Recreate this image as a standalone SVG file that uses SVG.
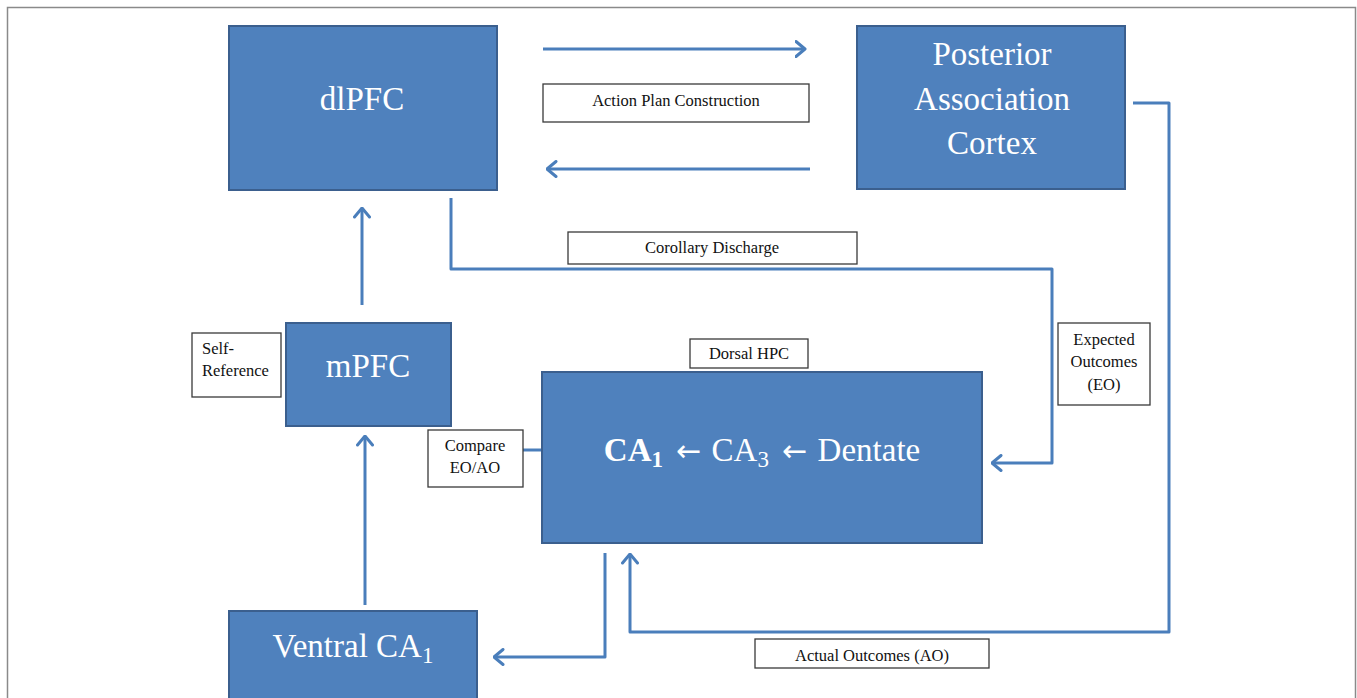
<svg xmlns="http://www.w3.org/2000/svg" width="1357" height="698" viewBox="0 0 1357 698">
<style>
.node rect.box{fill:#4f81bd;stroke:#3b5f8e;stroke-width:2}
.node text{font-family:"Liberation Serif","Times New Roman",serif;font-size:33px;fill:#ffffff;text-anchor:middle}
.node tspan.ar{font-family:"DejaVu Sans",sans-serif;font-size:30px}
.lbl rect{fill:#ffffff;stroke:#3a3a3a;stroke-width:1.3}
.lbl text{font-family:"Liberation Serif","Times New Roman",serif;font-size:16.5px;fill:#111111;text-anchor:middle}
.lbl text.start{text-anchor:start}
#connectors path{fill:none;stroke:#4a7ebb;stroke-width:3;stroke-linejoin:round}
</style>
<defs>
<marker id="arr" viewBox="0 0 12 18" refX="10.5" refY="9" markerWidth="12" markerHeight="18" markerUnits="userSpaceOnUse" orient="auto">
<path d="M1.5,1.5 L10.5,9 L1.5,16.5" fill="none" stroke="#4a7ebb" stroke-width="3" stroke-linecap="round" stroke-linejoin="round"/>
</marker>
</defs>
<rect width="1357" height="698" fill="#ffffff"/>
<path d="M7.5,698 V7.5 H1355.5 V698" fill="none" stroke="#8a8a8a" stroke-width="1.5"/>

<g id="connectors">
<path d="M543,49 H805" marker-end="url(#arr)"/>
<path d="M810,169 H547" marker-end="url(#arr)"/>
<path d="M362,305 V208" marker-end="url(#arr)"/>
<path d="M365,605 V436" marker-end="url(#arr)"/>
<path d="M451,198 V269 H1052 V463 H992" marker-end="url(#arr)"/>
<path d="M1133,103 H1169 V632 H630 V554" marker-end="url(#arr)"/>
<path d="M605,553 V657 H494" marker-end="url(#arr)"/>
<path d="M523,450 H542"/>
</g>

<g id="dlPFC" class="node">
<rect class="box" x="229" y="26" width="268" height="164"/>
<text x="362" y="110">dlPFC</text>
</g>
<g id="posterior" class="node">
<rect class="box" x="857" y="26" width="268" height="163"/>
<text x="992" y="65">Posterior</text>
<text x="992" y="110">Association</text>
<text x="992" y="154">Cortex</text>
</g>
<g id="mPFC" class="node">
<rect class="box" x="286" y="323" width="165" height="103"/>
<text x="368" y="377">mPFC</text>
</g>
<g id="dorsalHPC" class="node">
<rect class="box" x="542" y="372" width="440" height="171"/>
<text x="762" y="461"><tspan font-weight="bold">CA</tspan><tspan font-weight="bold" font-size="23" dy="6">1</tspan><tspan dy="-6" dx="5"> </tspan><tspan class="ar">←</tspan><tspan dx="2"> CA</tspan><tspan font-size="23" dy="6">3</tspan><tspan dy="-6" dx="5"> </tspan><tspan class="ar">←</tspan><tspan dx="2"> Dentate</tspan></text>
</g>
<g id="ventralCA1" class="node">
<rect class="box" x="229" y="611" width="248" height="100"/>
<text x="353" y="657">Ventral CA<tspan font-size="23" dy="6">1</tspan></text>
</g>

<g id="lbl-action" class="lbl">
<rect x="543" y="84" width="266" height="38"/>
<text x="676" y="106">Action Plan Construction</text>
</g>
<g id="lbl-corollary" class="lbl">
<rect x="568" y="232" width="289" height="32"/>
<text x="712" y="253">Corollary Discharge</text>
</g>
<g id="lbl-expected" class="lbl">
<rect x="1058" y="323" width="92" height="82"/>
<text x="1104" y="345">Expected</text>
<text x="1104" y="367">Outcomes</text>
<text x="1104" y="390">(EO)</text>
</g>
<g id="lbl-self" class="lbl">
<rect x="192" y="333" width="89" height="64"/>
<text class="start" x="202" y="354">Self-</text>
<text class="start" x="202" y="376">Reference</text>
</g>
<g id="lbl-compare" class="lbl">
<rect x="428" y="430" width="95" height="57"/>
<text x="475" y="451">Compare</text>
<text x="475" y="473">EO/AO</text>
</g>
<g id="lbl-dorsal" class="lbl">
<rect x="690" y="339" width="118" height="29"/>
<text x="749" y="359">Dorsal HPC</text>
</g>
<g id="lbl-actual" class="lbl">
<rect x="755" y="639" width="234" height="29"/>
<text x="872" y="661">Actual Outcomes (AO)</text>
</g>
</svg>
